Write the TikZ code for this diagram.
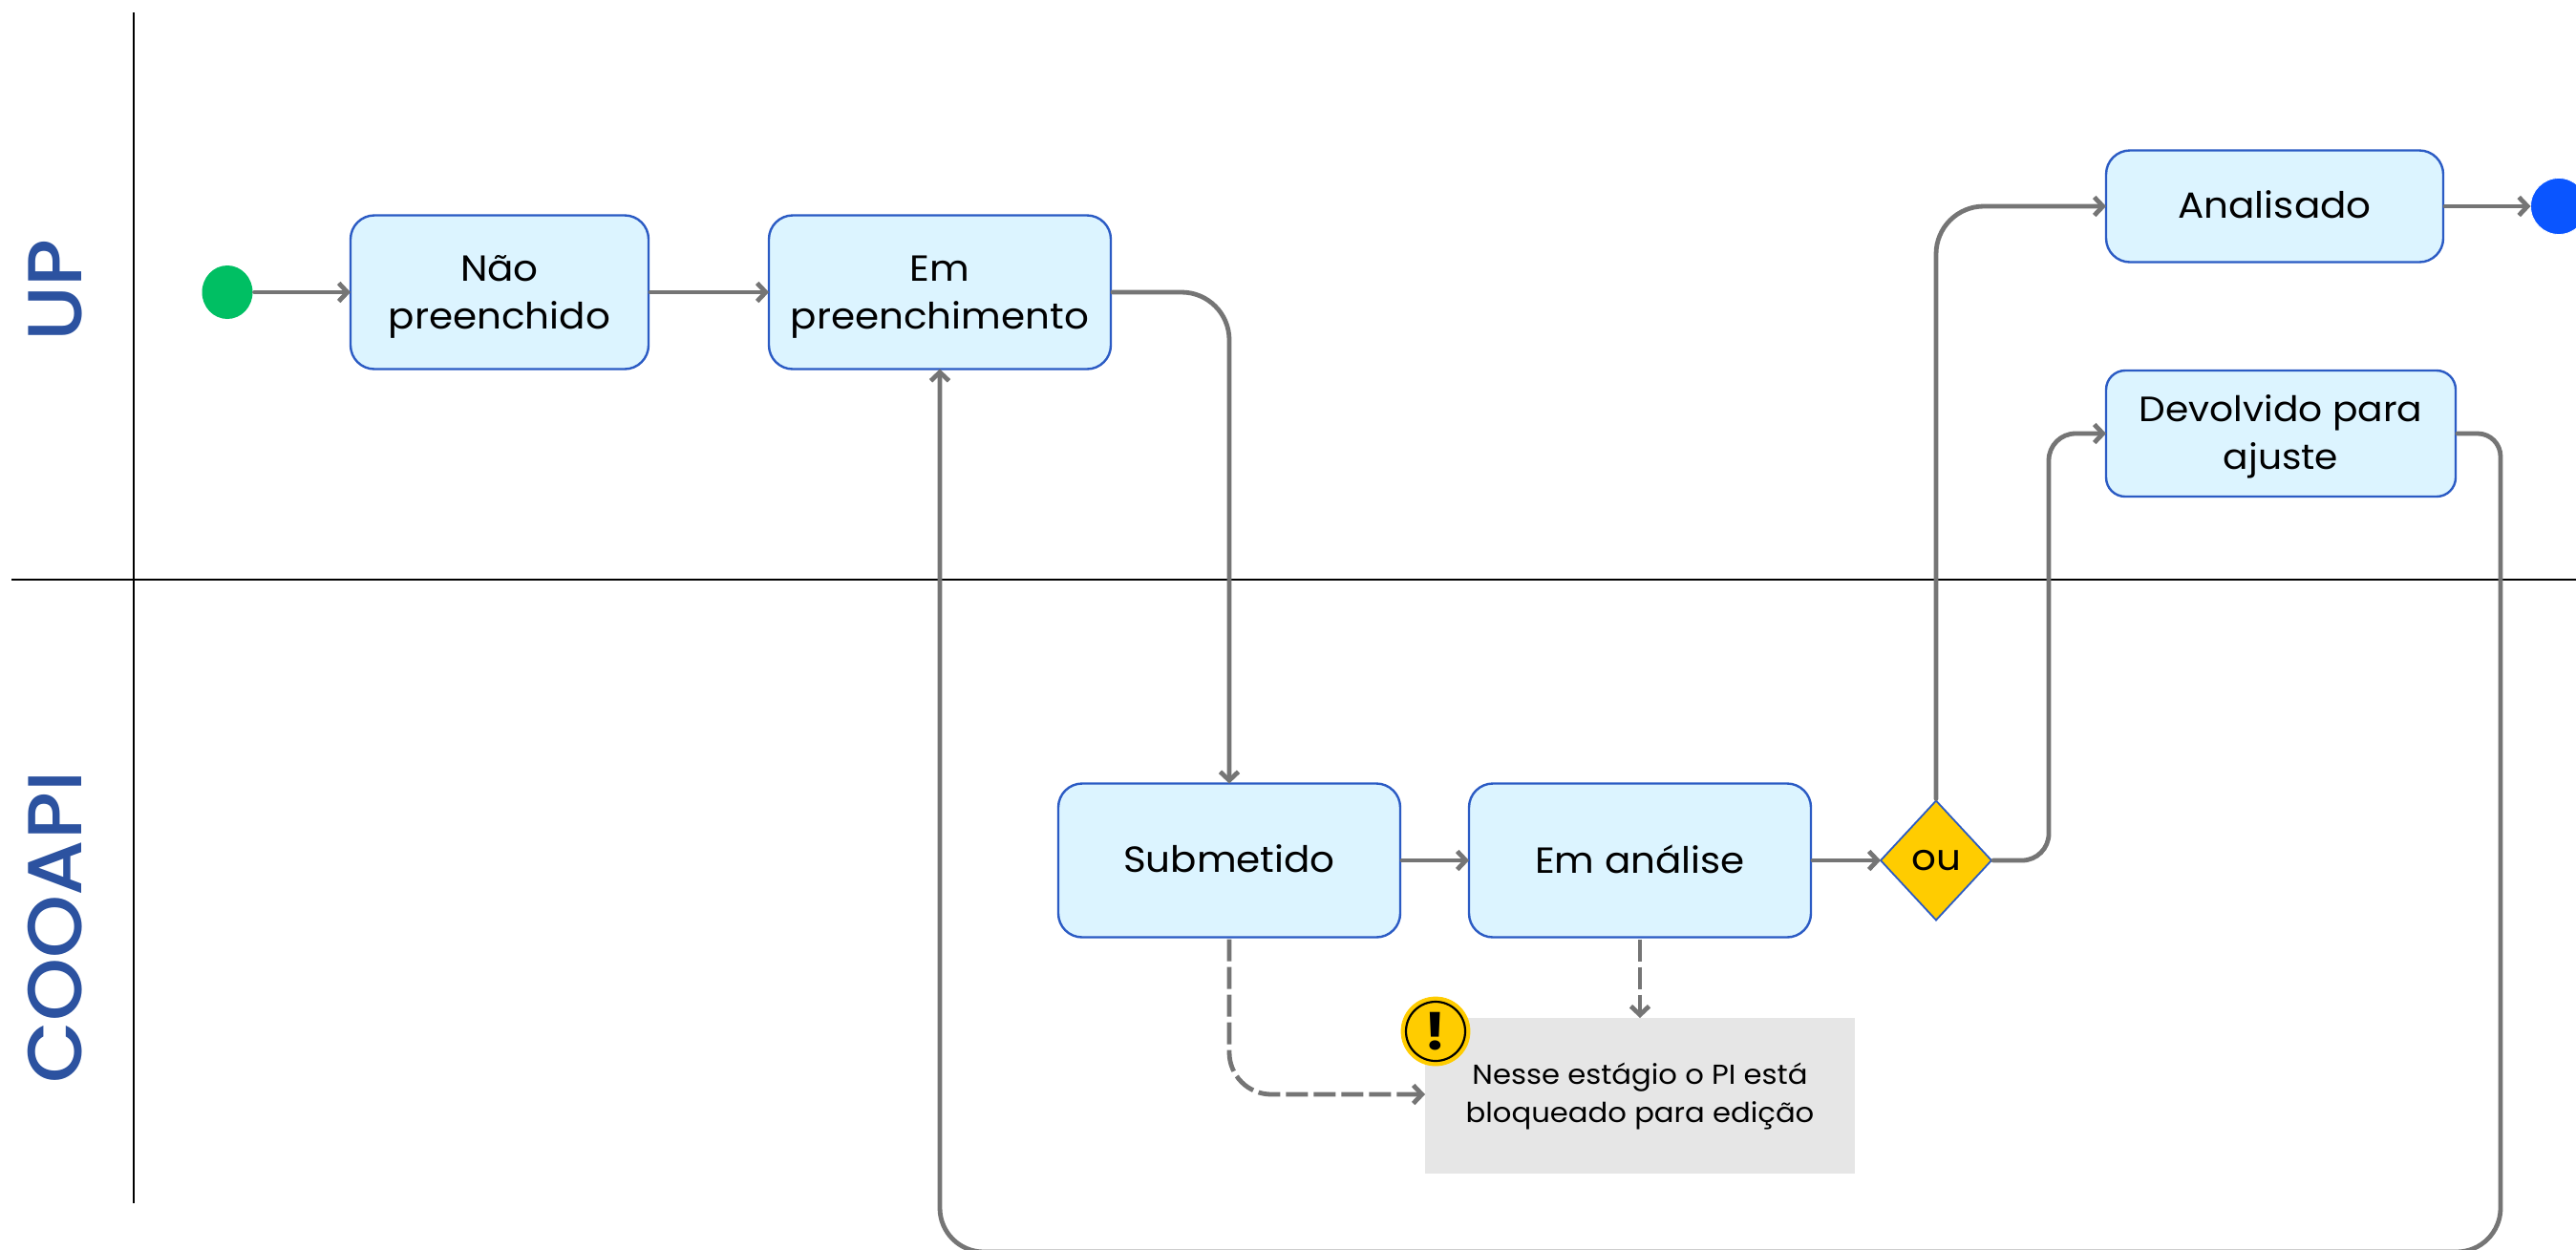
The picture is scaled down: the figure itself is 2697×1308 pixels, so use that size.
\documentclass[tikz,border=0pt]{standalone}
\usepackage{fontspec}
\setmainfont[FakeStretch=1.065]{Poppins}
\newfontfamily\lanefont[FakeStretch=1.05]{Poppins Medium}
\usetikzlibrary{arrows.meta,shapes.geometric}
\definecolor{boxfill}{HTML}{DCF4FF}
\definecolor{boxline}{HTML}{2B5BC4}
\definecolor{conn}{HTML}{757575}
\definecolor{lane}{HTML}{2C52A0}
\definecolor{gold}{HTML}{FFCC00}
\definecolor{startg}{HTML}{00BF63}
\definecolor{endb}{HTML}{0A55FF}
\definecolor{notebg}{HTML}{E6E6E6}
\newcommand{\pushtext}[1]{\rule{0pt}{#1}}
\newcommand{\lifttext}{\rule[-1.7pt]{0pt}{1pt}}
\tikzset{
  proc/.style={draw=boxline,fill=boxfill,line width=1.2pt,rounded corners=12.5pt,outer sep=0pt,inner sep=0pt,align=center,font=\fontsize{19}{25}\selectfont,text=black},
  flow/.style={draw=conn,line width=2.4pt,line cap=round,shorten <=1pt,-{Straight Barb[length=4.5pt,width=9.5pt,line width=2.4pt]}},
  flowdash/.style={flow,dash pattern=on 11.5pt off 3pt,line cap=butt},
  lanetext/.style={text=lane,rotate=90,font=\lanefont\fontsize{40}{40}\selectfont,inner sep=0pt},
  laneline/.style={draw=black,line width=1pt}
}
\begin{document}
\begin{tikzpicture}[x=0.5pt,y=-0.5pt]
\useasboundingbox (0,0) rectangle (2697,1308);
\clip (0,0) rectangle (2697,1308);
\fill[white] (0,0) rectangle (2697,1308);
\coordinate (vt) at (140,13);
\coordinate (vb) at (140,1260);
\coordinate (hl) at (12,607);
\coordinate (hr) at (2697,607);
\draw[laneline] (vt) -- (vb);
\draw[laneline] (hl) -- (hr);
\node[lanetext] (up) at (58,304) {UP};
\node[lanetext] (cooapi) at (58,971) {COOAPI};
\node[ellipse,fill=startg,minimum width=26.5pt,minimum height=28pt,inner sep=0pt,outer sep=0pt] (start) at (238,306) {};
\node[proc,minimum width=156pt,minimum height=80.5pt] (nao) at (523,306) {\pushtext{18pt}Não\\preenchido};
\node[proc,minimum width=179pt,minimum height=80.5pt] (em) at (984,306) {\pushtext{18pt}Em\\preenchimento};
\node[proc,minimum width=179pt,minimum height=80.5pt] (sub) at (1287,901) {\lifttext Submetido};
\node[proc,minimum width=179pt,minimum height=80.5pt] (ana) at (1717,901) {\lifttext Em análise};
\node[diamond,draw=boxline,fill=gold,line width=0.9pt,minimum width=58pt,minimum height=62.5pt,inner sep=0pt,outer sep=0pt,font=\fontsize{19}{24}\selectfont] (ou) at (2027,901) {ou};
\node[proc,minimum width=176.5pt,minimum height=58.5pt] (done) at (2381.5,216) {\lifttext Analisado};
\node[proc,rounded corners=10pt,minimum width=183pt,minimum height=66pt,font=\fontsize{18.4}{25}\selectfont] (dev) at (2388,454) {\pushtext{17pt}Devolvido para\\ajuste};
\node[ellipse,draw=white,fill=endb,line width=0.4pt,minimum width=29.5pt,minimum height=29.5pt,inner sep=0pt,outer sep=0pt] (fim) at (2679,216) {};
\node[fill=notebg,minimum width=225pt,minimum height=81.5pt,inner sep=0pt,outer sep=0pt] (note) at (1717,1147.5) {};
\node[align=center,font=\fontsize{14.4}{20}\selectfont,inner sep=0pt] (notetext) at (1717,1147.5) {Nesse estágio o PI está\\bloqueado para edição};
\node[circle,draw=gold,fill=gold,minimum size=36pt,inner sep=0pt,outer sep=0pt] (warnout) at (1503,1080) {};
\node[circle,draw=black,fill=gold,line width=1.1pt,minimum size=31pt,inner sep=0pt,font=\fontsize{27}{27}\selectfont\bfseries] (warn) at (1503,1080) {!};

\coordinate (c1) at (1287,306);
\coordinate (c2) at (1287,1146);
\coordinate (c3) at (2027,216);
\coordinate (c4) at (2145,901);
\coordinate (c5) at (2145,454);
\coordinate (c6) at (2618,454);
\coordinate (c7) at (2618,1311);
\coordinate (c8) at (984,1311);

\draw[flow] (start.east) -- (nao.west);
\draw[flow] (nao.east) -- (em.west);
\draw[flow,rounded corners=25pt] (em.east) -- (c1) -- (sub.north);
\draw[flow] (sub.east) -- (ana.west);
\draw[flow] (ana.east) -- (ou.west);
\draw[flow,rounded corners=25pt] (ou.north) -- (c3) -- (done.west);
\draw[flow,rounded corners=14pt] (ou.east) -- (c4) -- (c5) -- (dev.west);
\draw[flow] (done.east) -- (fim.west);
\draw[flow] (dev.east) [rounded corners=12pt] -- (c6) [rounded corners=23pt] -- (c7) -- (c8) -- (em.south);
\draw[flowdash] (ana.south) -- (note.north);
\draw[flowdash,rounded corners=22pt] (sub.south) -- (c2) -- (note.west |- c2);
\end{tikzpicture}
\end{document}
